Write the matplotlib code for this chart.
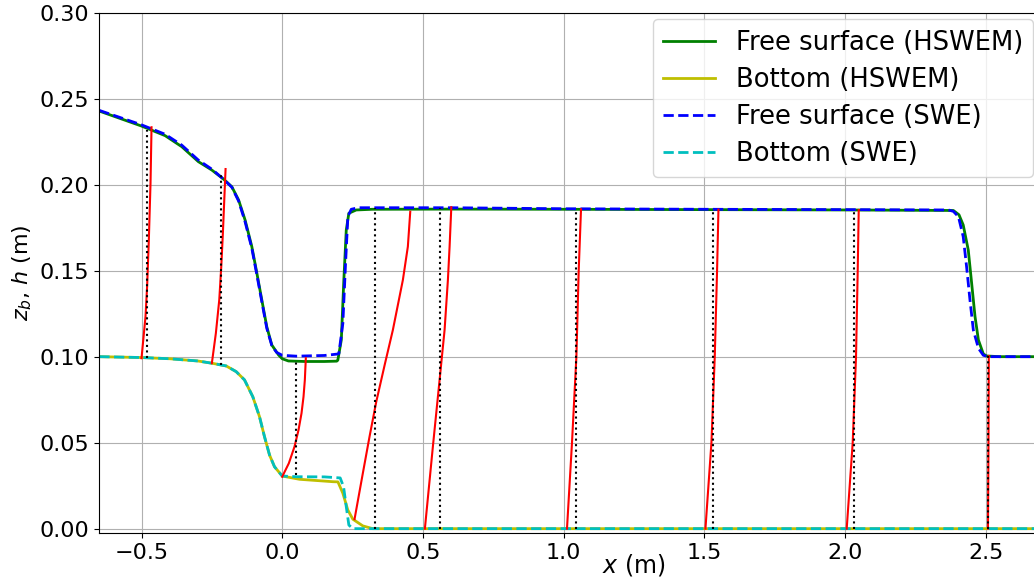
import matplotlib
matplotlib.use("Agg")
import matplotlib.pyplot as plt

# Free surface and bottom, HSWEM solution
hswem_surf_x = [-0.65, -0.5, -0.416, -0.357, -0.298, -0.25, -0.209, -0.179, -0.155, -0.132,
                -0.108, -0.09, -0.0725, -0.0548, -0.037, -0.013, 0.0, 0.022, 0.08, 0.15,
                0.194, 0.1977, 0.21, 0.219, 0.2276, 0.2368, 0.263, 0.32, 0.6, 1.0, 1.5, 2.0,
                2.385, 2.405, 2.42, 2.438, 2.45, 2.462, 2.474, 2.4915, 2.503, 2.55, 2.7]
hswem_surf_y = [0.2428, 0.2341, 0.2285, 0.2221, 0.2134, 0.2085, 0.2033, 0.1988, 0.1911, 0.1795,
                0.164, 0.1485, 0.133, 0.1174, 0.1068, 0.101, 0.0988, 0.0975, 0.0972, 0.0972,
                0.0974, 0.098, 0.1097, 0.1446, 0.1736, 0.1834, 0.1853, 0.1857, 0.1858, 0.1857,
                0.1855, 0.1853, 0.1850, 0.1825, 0.1766, 0.162, 0.1427, 0.1233, 0.1097, 0.1016,
                0.1004, 0.1, 0.1]

hswem_bed_x = [-0.65, -0.5, -0.4, -0.3, -0.25, -0.199, -0.1636, -0.134, -0.1045, -0.0807,
               -0.063, -0.045, -0.0274, 0.0, 0.0615, 0.18, 0.198, 0.2155, 0.233, 0.251,
               0.2866, 0.322, 2.7]
hswem_bed_y = [0.1, 0.0995, 0.0988, 0.0975, 0.0962, 0.0946, 0.0913, 0.0865, 0.0767, 0.0651,
               0.0535, 0.0428, 0.036, 0.0306, 0.0287, 0.0273, 0.0272, 0.0206, 0.0109, 0.0055,
               0.0016, 0.0, 0.0]

# Free surface and bottom, SWE solution
swe_surf_x = [-0.65, -0.5, -0.416, -0.357, -0.298, -0.25, -0.209, -0.179, -0.155, -0.132,
              -0.108, -0.09, -0.0725, -0.0548, -0.037, -0.02, 0.0, 0.05, 0.15, 0.195,
              0.2013, 0.2155, 0.2251, 0.2333, 0.2454, 0.27, 0.6, 1.0, 1.5, 2.0,
              2.367, 2.385, 2.403, 2.42, 2.432, 2.444, 2.456, 2.474, 2.4915, 2.51, 2.7]
swe_surf_y = [0.2432, 0.2348, 0.2293, 0.2230, 0.2143, 0.2090, 0.2033, 0.1985, 0.1905, 0.1785,
              0.163, 0.1475, 0.132, 0.1165, 0.1065, 0.1025, 0.1008, 0.1003, 0.1007, 0.1015,
              0.1018, 0.1194, 0.1543, 0.1814, 0.1857, 0.1866, 0.1866, 0.186, 0.1857, 0.1855,
              0.1853, 0.1845, 0.1814, 0.1698, 0.1523, 0.133, 0.1155, 0.1049, 0.1008, 0.1, 0.1]

swe_bed_x = [-0.65, -0.5, -0.4, -0.3, -0.25, -0.199, -0.1636, -0.134, -0.1045, -0.0807,
             -0.063, -0.045, -0.0274, 0.0, 0.05, 0.15, 0.206, 0.218, 0.2276, 0.2368, 0.251, 2.7]
swe_bed_y = [0.1, 0.0995, 0.0988, 0.0975, 0.0962, 0.0946, 0.0913, 0.0865, 0.0767, 0.0651,
             0.0535, 0.0428, 0.036, 0.0306, 0.0302, 0.0301, 0.0295, 0.0244, 0.0128, 0.0021,
             0.0, 0.0]

# Velocity profiles: station position, heights and horizontal offsets (scaled velocity)
station_x = [-0.5, -0.25, 0.0, 0.257, 0.507, 1.012, 1.504, 2.006, 2.508]
profile_z = [
    [0.0991, 0.1233, 0.1407, 0.1678, 0.2008, 0.2334],
    [0.0962, 0.1136, 0.133, 0.1523, 0.1717, 0.1911, 0.2091],
    [0.0302, 0.038, 0.0477, 0.0574, 0.0671, 0.0767, 0.0864, 0.0991],
    [0.0055, 0.0322, 0.0535, 0.0738, 0.0962, 0.1155, 0.1446, 0.164, 0.1843],
    [0.0, 0.0477, 0.0865, 0.1155, 0.1446, 0.164, 0.1869],
    [0.0, 0.05, 0.1, 0.15, 0.1857],
    [0.0, 0.05, 0.1, 0.15, 0.1855],
    [0.0, 0.05, 0.1, 0.15, 0.1853],
    [0.0, 0.05, 0.1004],
]
profile_dx = [
    [0.0, 0.0142, 0.0199, 0.026, 0.032, 0.0356],
    [0.0, 0.0142, 0.0263, 0.0334, 0.0391, 0.0441, 0.0487],
    [0.0, 0.0235, 0.0437, 0.058, 0.0686, 0.0757, 0.0804, 0.0839],
    [0.0, 0.0295, 0.0533, 0.0772, 0.1085, 0.1362, 0.1718, 0.1895, 0.198],
    [0.0, 0.0284, 0.0523, 0.070, 0.0818, 0.0878, 0.0939],
    [0.0, 0.0178, 0.0334, 0.0416, 0.0498],
    [0.0, 0.0213, 0.0331, 0.0413, 0.0462],
    [0.0, 0.0213, 0.0331, 0.0391, 0.0427],
    [0.0, 0.0018, 0.003],
]
# Depth-averaged velocity (scaled) and vertical extent of its marker
mean_dx = [0.019, 0.0334, 0.0473, 0.073, 0.0523, 0.031, 0.027, 0.027, 0.0012]
mean_zbot = [0.099, 0.0952, 0.0312, 0.0, 0.0, 0.0, 0.0, 0.0, 0.0]
mean_ztop = [0.2318, 0.2076, 0.098, 0.1863, 0.1866, 0.1857, 0.1855, 0.1853, 0.1004]

xticks = [-0.5, 0.0, 0.5, 1.0, 1.5, 2.0, 2.5]
yticks = [0.0, 0.05, 0.10, 0.15, 0.20, 0.25, 0.30]

W, H = 1034, 580
fig = plt.figure(figsize=(W / 100, H / 100), dpi=100)
ax = fig.add_axes([99.3 / W, (H - 533.3) / H, (1042 - 99.3) / W, (533.3 - 12.7) / H])

ax.plot(hswem_surf_x, hswem_surf_y, color="g", lw=2, label="Free surface (HSWEM)")
ax.plot(hswem_bed_x, hswem_bed_y, color="y", lw=2, label="Bottom (HSWEM)")
ax.plot(swe_surf_x, swe_surf_y, color="b", ls="--", lw=2, label="Free surface (SWE)")
ax.plot(swe_bed_x, swe_bed_y, color="c", ls="--", lw=2, label="Bottom (SWE)")

for x0, zs, dxs, m, zb, zt in zip(station_x, profile_z, profile_dx, mean_dx, mean_zbot, mean_ztop):
    ax.plot([x0 + d for d in dxs], zs, color="r", lw=1.5)
    ax.plot([x0 + m, x0 + m], [zb, zt], color="k", ls=":", lw=1.5)

ax.set_xlim(-0.65, 2.7)
ax.set_ylim(-0.0027, 0.30)
ax.set_xticks(xticks)
ax.set_yticks(yticks)
ax.tick_params(labelsize=16)
ax.grid(True)

ax.set_xlabel("$x$ (m)", fontsize=17)
ax.xaxis.set_label_coords(0.567, -0.036)
ax.set_ylabel("$z_b$, $h$ (m)", fontsize=16)

fig.legend(loc="upper right", bbox_to_anchor=(1033.3 / W, (H - 19.3) / H),
           bbox_transform=fig.transFigure, borderaxespad=0, fontsize=18.6,
           labelspacing=0.43)

fig.savefig("out.png", dpi=100)
